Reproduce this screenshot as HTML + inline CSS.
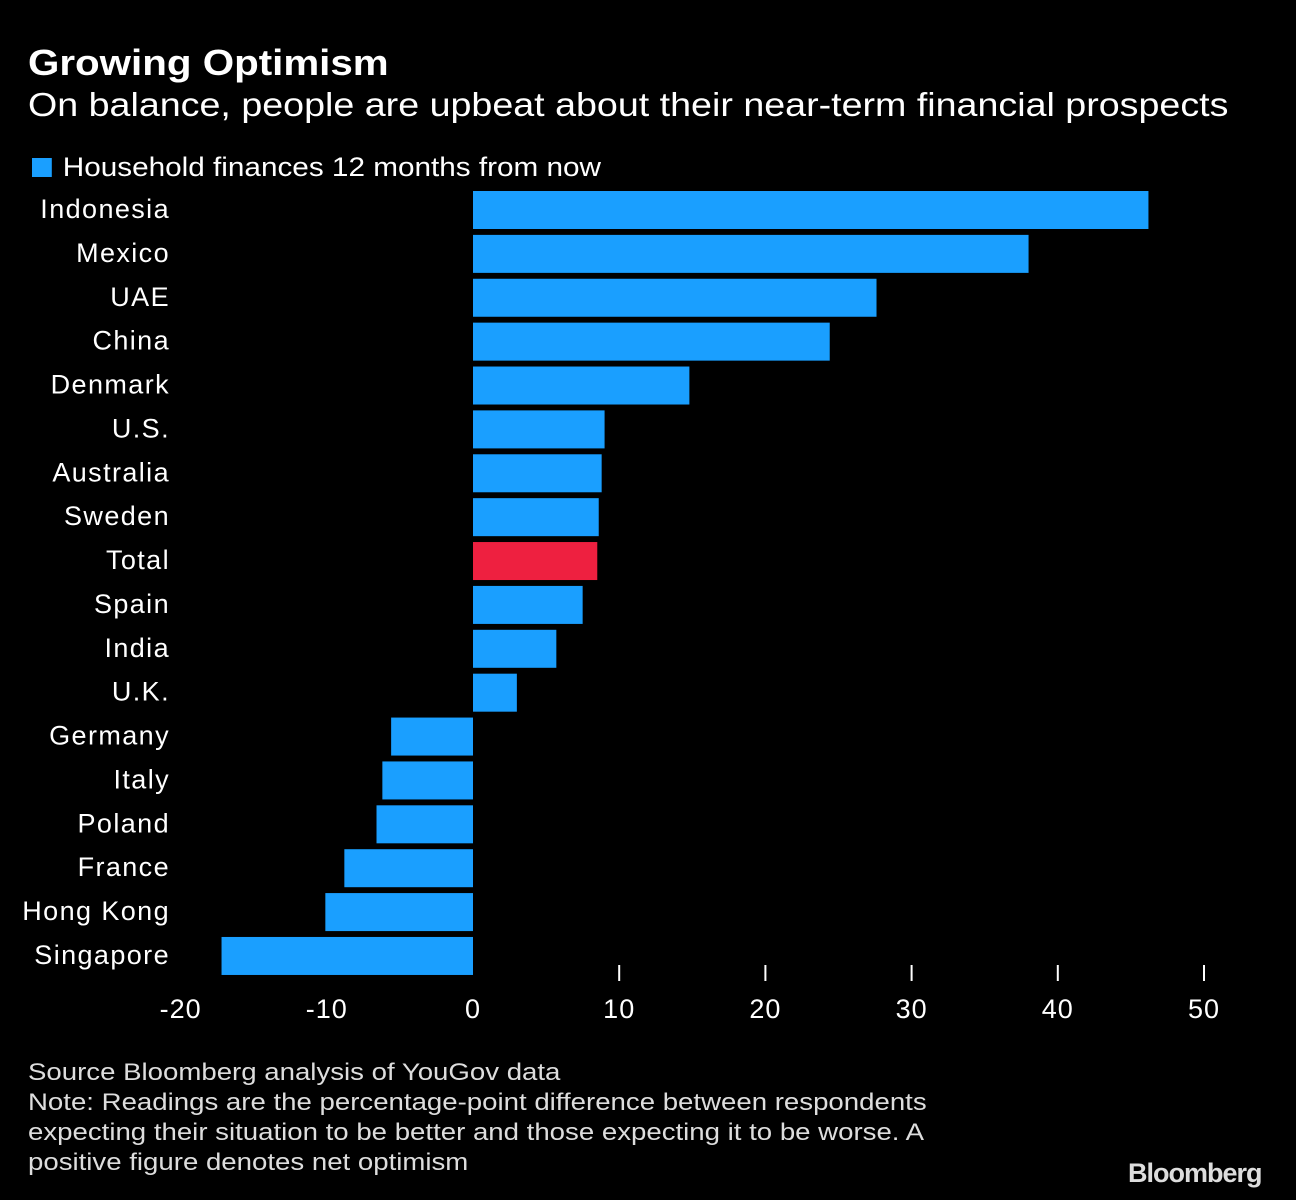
<!DOCTYPE html>
<html><head><meta charset="utf-8"><style>
html,body{margin:0;padding:0;background:#000;}
body{width:1296px;height:1200px;overflow:hidden;position:relative;font-family:"Liberation Sans",sans-serif;color:#fff;}
.t{position:absolute;white-space:nowrap;transform-origin:0 0;}
</style></head><body>
<div class="t" style="left:28px;top:42px;font-size:36px;font-weight:bold;transform:scaleX(1.12);">Growing Optimism</div>
<div class="t" style="left:28px;top:86px;font-size:33px;transform:scaleX(1.14);">On balance, people are upbeat about their near-term financial prospects</div>
<div class="t" style="left:32px;top:152px;font-size:27px;transform:scaleX(1.1);"><span style="display:inline-block;width:18px;height:19px;background:#1a9fff;margin-right:10px;vertical-align:-1px;"></span>Household finances 12 months from now</div>
<svg id="chart" width="1296" height="1200" style="position:absolute;left:0;top:0;"></svg>
<div class="t" style="left:28px;top:1058px;font-size:24px;line-height:30px;color:#ddd;transform:scaleX(1.15);">Source Bloomberg analysis of YouGov data<br>Note: Readings are the percentage-point difference between respondents<br>expecting their situation to be better and those expecting it to be worse. A<br>positive figure denotes net optimism</div>
<div class="t" style="left:1128px;top:1158px;font-size:27px;font-weight:bold;color:#ddd;letter-spacing:-1px;">Bloomberg</div>
<script>
const categories=["Indonesia","Mexico","UAE","China","Denmark","U.S.","Australia","Sweden","Total","Spain","India","U.K.","Germany","Italy","Poland","France","Hong Kong","Singapore"];
const values=[46.2,38.0,27.6,24.4,14.8,9.0,8.8,8.6,8.5,7.5,5.7,3.0,-5.6,-6.2,-6.6,-8.8,-10.1,-17.2];
const tickValues=[-20,-10,0,10,20,30,40,50];
const tickLabels=["-20","-10","0","10","20","30","40","50"];
const NS="http://www.w3.org/2000/svg";
const svg=document.getElementById("chart");
const x0=473,pxPer=14.62;
function xs(v){return x0+v*pxPer;}
const rowTop=191,pitch=43.88,barH=38;
function ys(i){return rowTop+i*pitch;}
categories.forEach((c,i)=>{
  const v=values[i];
  const r=document.createElementNS(NS,"rect");
  r.setAttribute("x",Math.min(xs(0),xs(v)));
  r.setAttribute("y",ys(i));
  r.setAttribute("width",Math.abs(xs(v)-xs(0)));
  r.setAttribute("height",barH);
  r.setAttribute("fill",c==="Total"?"#ee2040":"#1a9fff");
  
  
  svg.appendChild(r);
  const t=document.createElementNS(NS,"text");
  t.setAttribute("x",170);
  t.setAttribute("y",ys(i)+barH/2+8);
  t.setAttribute("text-anchor","end");
  t.setAttribute("fill","#fff");
  t.setAttribute("font-size","27");
  t.setAttribute("letter-spacing","1.4");
  t.setAttribute("font-family","Liberation Sans, sans-serif");
  t.textContent=c;
  
  
  svg.appendChild(t);
});
tickValues.forEach((v,i)=>{
  if(v>0){
    const l=document.createElementNS(NS,"line");
    l.setAttribute("x1",xs(v));l.setAttribute("x2",xs(v));
    l.setAttribute("y1",965);l.setAttribute("y2",981);
    l.setAttribute("stroke","#fff");l.setAttribute("stroke-width","2");
    
    
    svg.appendChild(l);
  }
  const t=document.createElementNS(NS,"text");
  t.setAttribute("x",xs(v));
  t.setAttribute("y",1018);
  t.setAttribute("text-anchor","middle");
  t.setAttribute("fill","#fff");
  t.setAttribute("font-size","27");
  t.setAttribute("letter-spacing","1");
  t.setAttribute("font-family","Liberation Sans, sans-serif");
  t.textContent=tickLabels[i];
  
  
  svg.appendChild(t);
});
</script>
</body></html>
